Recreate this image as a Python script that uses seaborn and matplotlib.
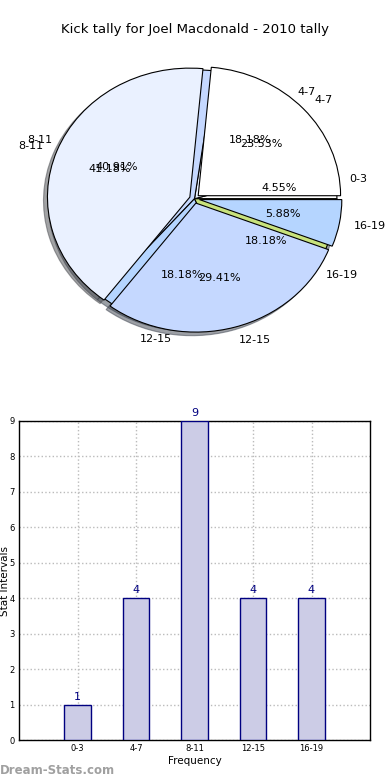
import matplotlib
matplotlib.use("Agg")
import matplotlib.pyplot as plt
import seaborn as sns

# kick tally data
categories = ['0-3', '4-7', '8-11', '12-15', '16-19']
tally_2010 = [1, 4, 9, 4, 4]

# second (overlaid) pie in the original has no 0-3 wedge
categories_b = ['4-7', '8-11', '12-15', '16-19']
tally_b = [4, 7, 5, 1]

pie_colors = ['#FFFFFF', '#EAF1FF', '#C5D8FF', '#B5D5FF', '#C8E27C']

sns.set_style('white')
plt.rcParams['font.family'] = ['DejaVu Sans']
plt.rcParams['text.color'] = 'black'
plt.rcParams['axes.labelcolor'] = 'black'
plt.rcParams['xtick.color'] = 'black'
plt.rcParams['ytick.color'] = 'black'

fig = plt.figure(figsize=(3.9, 7.8), dpi=100)
fig.patch.set_facecolor('white')

fig.text(0.5, 1 - 30 / 780, 'Kick tally for Joel Macdonald - 2010 tally',
         ha='center', va='center', fontsize=9.5)

# --- pie (two pies drawn on top of each other) ---
ax_pie = fig.add_axes([16.5 / 390, (780 - 360) / 780, 356 / 390, 322.5 / 780])
wedge_style = {'edgecolor': 'black', 'linewidth': 0.8}
ax_pie.pie(tally_2010, labels=categories, colors=pie_colors, autopct='%.2f%%',
           shadow=True, wedgeprops=wedge_style, textprops={'fontsize': 8})
ax_pie.pie(tally_b, labels=categories_b, colors=pie_colors[:4], autopct='%.2f%%',
           explode=[0.035] * 4, shadow=True, wedgeprops=wedge_style,
           textprops={'fontsize': 8})
ax_pie.set_xlim(-1.25, 1.25)
ax_pie.set_ylim(-1.25, 1.25)
ax_pie.set_aspect('auto')
ax_pie.axis('off')

# --- bar chart ---
ax = fig.add_axes([19 / 390, 40 / 780, 351 / 390, 319 / 780])
sns.barplot(x=categories, y=tally_2010, color='#CCCCE6', saturation=1,
            edgecolor='#000080', linewidth=1, width=0.45, ax=ax, zorder=3)
ax.bar_label(ax.containers[0], padding=2, color='#000080', fontsize=8)

ax.set_xlim(-1, 5)
ax.set_ylim(0, 9)
ax.set_yticks(range(10))
ax.grid(True, linestyle=':', color='#BBBBBB', linewidth=1)
ax.set_axisbelow(True)
ax.tick_params(axis='both', length=0, labelsize=6, pad=3)
for s in ax.spines.values():
    s.set_color('black')
    s.set_linewidth(1)

ax.set_xlabel('Frequency', fontsize=7.5, labelpad=2)
ax.set_ylabel('Stat Intervals', fontsize=7.5)
ax.yaxis.set_label_coords(-0.025, 0.5)

fig.text(0.0, 1 - 770 / 780, 'Dream-Stats.com', ha='left', va='center',
         fontsize=8.5, fontweight='bold', color='#A0A0A0')

fig.savefig('out.png', dpi=100)
